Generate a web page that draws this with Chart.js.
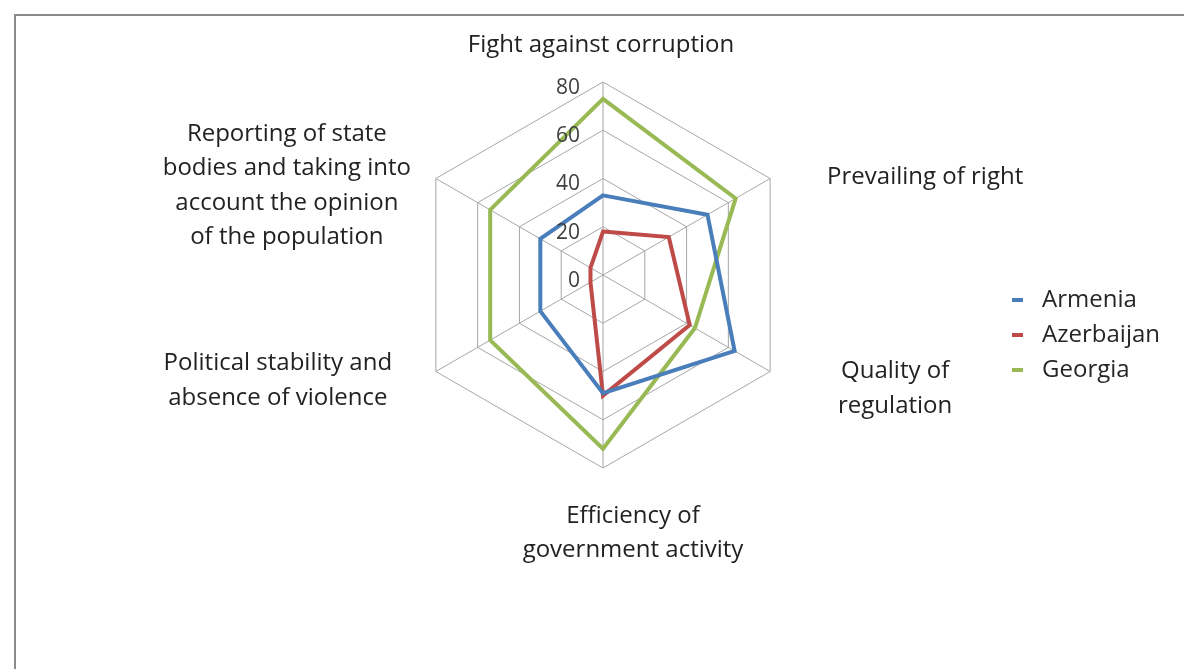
<!DOCTYPE html>
<html>
<head>
<meta charset="utf-8">
<script src="https://cdn.jsdelivr.net/npm/chart.js@4.4.1/dist/chart.umd.min.js"></script>
<style>
  html, body { margin: 0; padding: 0; background: #fff; overflow: hidden; }
  #marco { position: absolute; left: 14px; top: 14px; width: 1200px; height: 700px; border: 2px solid #8a8a8a; box-sizing: border-box; }
  #caja { position: absolute; left: 0; top: 0; width: 1184px; height: 669px; }
</style>
</head>
<body>
<div id="marco"></div>
<div id="caja"><canvas id="grafico-radar"></canvas></div>
<script>
// Categorías (ejes del radar), una línea por elemento
var categorias = [
  ['Fight against corruption'],
  ['Prevailing of right'],
  ['Quality of', 'regulation'],
  ['Efficiency of', 'government activity'],
  ['Political stability and', 'absence of violence'],
  ['Reporting of state', 'bodies and taking into', 'account the opinion', 'of the population']
];

// Valores por país
var armenia    = [33, 50, 63, 49, 30, 30];
var azerbaijan = [18, 31.5, 41.5, 50, 6, 6];
var georgia    = [73, 63.5, 44, 72, 54, 54];

// Marcas del eje radial
var marcas = [0, 20, 40, 60, 80];

var fuente = '"Open Sans", sans-serif';

// Marcador corto de la leyenda (estilo Excel)
function marcador(color) {
  var m = document.createElement('canvas');
  m.width = 11;
  m.height = 4;
  var g = m.getContext('2d');
  g.fillStyle = color;
  g.fillRect(0, 0, 11, 4);
  return m;
}

// Desplazamiento del centro de cada bloque de texto respecto al vértice exterior
var desplazamientos = [[-2, -37], [155, -1], [125, 17], [30, 65], [-158, 9], [-149, 7]];

// Etiquetas de los ejes (centradas, como en Excel) y marcas del eje vertical
var etiquetas = {
  id: 'etiquetas',
  afterDatasetsDraw: function (chart) {
    var r = chart.scales.r;
    var c = chart.ctx;
    c.save();
    c.textBaseline = 'middle';

    c.font = '21px ' + fuente;
    c.fillStyle = '#404040';
    c.textAlign = 'right';
    marcas.forEach(function (v) {
      var p = r.getPointPositionForValue(0, v);
      c.fillText(String(v), p.x - 23, p.y + 6);
    });

    c.font = '24px ' + fuente;
    c.fillStyle = '#222';
    c.textAlign = 'center';
    var alto = 34.5;
    categorias.forEach(function (lineas, i) {
      var p = r.getPointPosition(i, r.drawingArea);
      var cx = p.x + desplazamientos[i][0];
      var cy = p.y + desplazamientos[i][1] - (lineas.length - 1) * alto / 2;
      lineas.forEach(function (t, k) {
        c.fillText(t, cx, cy + k * alto);
      });
    });
    c.restore();
  }
};

var ctx = document.getElementById('grafico-radar').getContext('2d');

var config = {
  type: 'radar',
  data: {
    labels: categorias,
    datasets: [
      { label: 'Armenia', data: armenia, borderColor: '#4a7ebb', backgroundColor: '#4a7ebb', pointStyle: marcador('#4a7ebb') },
      { label: 'Azerbaijan', data: azerbaijan, borderColor: '#be4b48', backgroundColor: '#be4b48', pointStyle: marcador('#be4b48') },
      { label: 'Georgia', data: georgia, borderColor: '#98b954', backgroundColor: '#98b954', pointStyle: marcador('#98b954') }
    ]
  },
  options: {
    responsive: true,
    maintainAspectRatio: false,
    animation: false,
    layout: { padding: { left: 214, right: 14, top: 82, bottom: 201 } },
    elements: {
      line: { tension: 0, borderWidth: 4, fill: false },
      point: { radius: 0, hoverRadius: 0 }
    },
    plugins: {
      legend: {
        position: 'right',
        title: { display: true, text: '', padding: { top: 54, bottom: 54 }, font: { size: 10 } },
        labels: {
          usePointStyle: true,
          pointStyleWidth: 26,
          boxHeight: 4,
          padding: 11,
          color: '#262626',
          font: { family: fuente, size: 24 }
        }
      },
      tooltip: { enabled: false }
    },
    scales: {
      r: {
        min: 0,
        max: 80,
        beginAtZero: true,
        ticks: { stepSize: 20, display: false },
        grid: { color: '#a6a6a6', lineWidth: 1 },
        angleLines: { color: '#a6a6a6', lineWidth: 1 },
        pointLabels: { display: false }
      }
    }
  },
  plugins: [etiquetas]
};

var graficoRadar = new Chart(ctx, config);
</script>
</body>
</html>
